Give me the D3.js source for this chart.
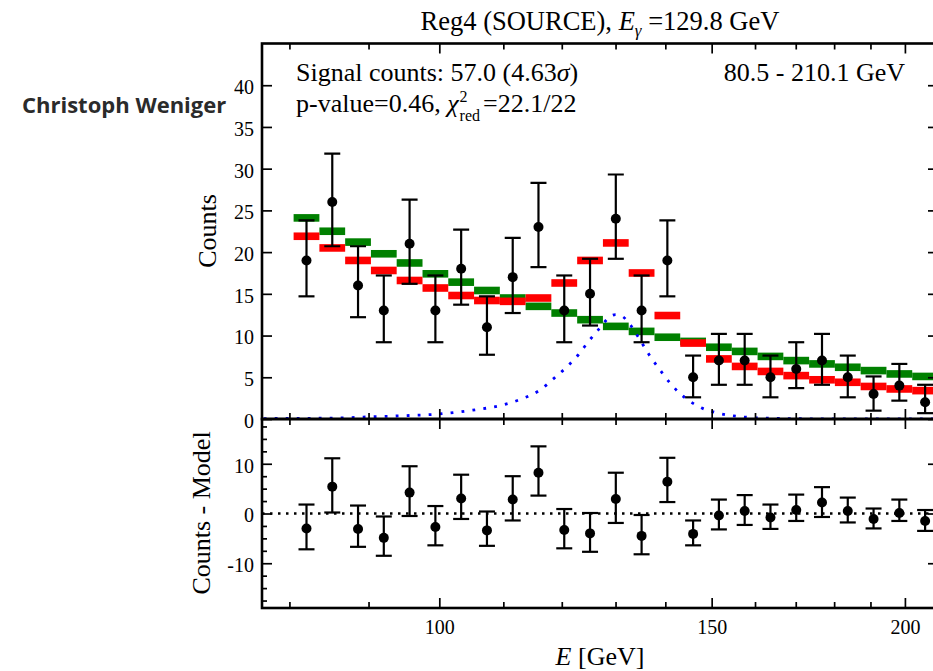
<!DOCTYPE html>
<html>
<head>
<meta charset="utf-8">
<script src="https://cdnjs.cloudflare.com/ajax/libs/d3/7.8.5/d3.min.js"></script>
<style>
  body { margin: 0; padding: 0; background: #fff; }
  svg { display: block; }
</style>
</head>
<body>
<svg id="chart" width="933" height="671"></svg>
<script>
// ---- data ----
const xDomain = [76.8, 210.1];
const binEdges = [80.5, 83.65, 86.92, 90.32, 93.85, 97.53, 101.34, 105.31, 109.43, 113.71,
  118.15, 122.78, 127.58, 132.57, 137.76, 143.14, 148.74, 154.56, 160.61, 166.89,
  173.42, 180.2, 187.25, 194.58, 202.19, 210.1];
const counts   = [19, 26, 16, 13, 21, 13, 18, 11, 17, 23, 13, 15, 24, 13, 19, 5, 7, 7, 5, 6, 7, 5, 3, 4, 2];
const countsHi = [23.8, 31.8, 20.7, 17.2, 26.3, 17.2, 22.7, 14.7, 21.7, 28.3, 17.2, 19.2, 29.3, 17.2, 23.8,
  7.6, 10.2, 10.2, 7.6, 9.2, 10.2, 7.6, 5.1, 6.6, 4.1];
const countsLo = [14.7, 20.7, 12.2, 9.2, 16.2, 9.2, 13.7, 7.7, 12.7, 18.2, 9.2, 11.2, 19.2, 9.2, 14.7,
  2.6, 4.1, 4.1, 2.6, 3.7, 4.1, 2.6, 1.0, 2.2, 0.7];
const modelTotal = [21.9, 20.5, 19.0, 17.8, 16.6, 15.7, 14.8, 14.2, 14.1, 14.5, 16.3, 19.0, 21.1, 17.5, 12.4,
  9.1, 7.2, 6.3, 5.7, 5.2, 4.7, 4.4, 3.9, 3.6, 3.4];
const modelBkg = [24.1, 22.5, 21.2, 19.8, 18.7, 17.4, 16.4, 15.4, 14.5, 13.5, 12.7, 11.9, 11.1, 10.5, 9.8,
  9.3, 8.6, 8.1, 7.5, 7.0, 6.6, 6.2, 5.8, 5.4, 5.1];
const resid   = [-3.0, 5.4, -3.1, -4.9, 4.2, -2.7, 3.0, -3.4, 2.8, 8.2, -3.3, -4.0, 2.9, -4.5, 6.4,
  -4.1, -0.4, 0.5, -0.8, 0.7, 2.2, 0.5, -1.1, 0.1, -1.5];
const residHi = [1.8, 11.1, 1.6, -0.6, 9.5, 1.5, 7.8, 0.4, 7.5, 13.5, 0.9, 0.1, 8.2, -0.3, 11.2,
  -1.4, 2.8, 3.7, 1.8, 3.8, 5.3, 3.2, 1.0, 2.8, 0.7];
const residLo = [-7.2, 0.2, -6.7, -8.5, -0.5, -6.4, -1.1, -6.5, -1.4, 3.6, -7.0, -7.7, -1.9, -8.2, 2.3,
  -6.4, -3.2, -2.3, -3.1, -1.5, -0.7, -1.8, -3.0, -1.5, -3.5];
const signalE = [77, 80, 85, 90, 95, 100, 105, 110, 113, 116, 119, 121, 123, 125, 127, 129, 130, 131,
  133, 135, 137, 139, 141, 143, 145, 148, 151, 155, 160, 170, 180, 210];
const signalV = [0.05, 0.07, 0.1, 0.25, 0.4, 0.6, 1.05, 1.7, 2.4, 3.4, 5.1, 6.3, 7.7, 9.4, 10.9, 12.3, 12.5, 12.4,
  11.2, 9.3, 7.4, 5.8, 4.3, 3.1, 2.2, 1.27, 0.76, 0.37, 0.15, 0.04, 0.01, 0];
const xMajorTicks = [100, 150, 200];
const xMinorTicks = [80, 90, 110, 120, 130, 140, 160, 170, 180, 190];
const yTopTicks = [0, 5, 10, 15, 20, 25, 30, 35, 40];
const yResMajor = [-10, 0, 10];
const yResMinor = [-17.5, -15, -12.5, -7.5, -5, -2.5, 2.5, 5, 7.5, 12.5, 15, 17.5];

const serif = '"Liberation Serif", "Times New Roman", serif';
const svg = d3.select("#chart");

const x = d3.scaleLog().domain(xDomain).range([262, 938]);
const yTop = d3.scaleLinear().domain([0, 45]).range([419, 43.5]);
const yRes = d3.scaleLinear().domain([-19, 19]).range([608, 419]);

const bins = counts.map((c, i) => ({
  lo: binEdges[i], hi: binEdges[i + 1], n: c, nHi: countsHi[i], nLo: countsLo[i],
  tot: modelTotal[i], bkg: modelBkg[i], r: resid[i], rHi: residHi[i], rLo: residLo[i]
}));
const cx = d => (x(d.lo) + x(d.hi)) / 2;

svg.append("clipPath").attr("id", "clipTop").append("rect")
  .attr("x", 262).attr("y", 43.5).attr("width", 676).attr("height", 375.5);
svg.append("clipPath").attr("id", "clipRes").append("rect")
  .attr("x", 262).attr("y", 419).attr("width", 676).attr("height", 189);

// ---- top panel ----
const topG = svg.append("g").attr("clip-path", "url(#clipTop)");
topG.selectAll("rect.bkg").data(bins).enter().append("rect")
  .attr("x", d => x(d.lo)).attr("width", d => x(d.hi) - x(d.lo))
  .attr("y", d => yTop(d.bkg) - 3.8).attr("height", 7.6).attr("fill", "#008000");
topG.selectAll("rect.tot").data(bins).enter().append("rect")
  .attr("x", d => x(d.lo)).attr("width", d => x(d.hi) - x(d.lo))
  .attr("y", d => yTop(d.tot) - 3.8).attr("height", 7.6).attr("fill", "#ff0000");

const sigLine = d3.line().x((d, i) => x(signalE[i])).y(d => yTop(d)).curve(d3.curveMonotoneX);
topG.append("path").datum(signalV).attr("d", sigLine)
  .attr("fill", "none").attr("stroke", "#0000ff").attr("stroke-width", 2.8)
  .attr("stroke-dasharray", "2.8,8.2");

function errorBars(g, data, y, val, lo, hi) {
  const e = g.selectAll("g.err").data(data).enter().append("g");
  e.append("line").attr("x1", cx).attr("x2", cx)
    .attr("y1", d => y(lo(d))).attr("y2", d => y(hi(d)));
  e.append("line").attr("x1", d => cx(d) - 8).attr("x2", d => cx(d) + 8)
    .attr("y1", d => y(lo(d))).attr("y2", d => y(lo(d)));
  e.append("line").attr("x1", d => cx(d) - 8).attr("x2", d => cx(d) + 8)
    .attr("y1", d => y(hi(d))).attr("y2", d => y(hi(d)));
  e.selectAll("line").attr("stroke", "#000").attr("stroke-width", 2.2);
  e.append("circle").attr("cx", cx).attr("cy", d => y(val(d))).attr("r", 5).attr("fill", "#000");
}
errorBars(topG, bins, yTop, d => d.n, d => d.nLo, d => d.nHi);

// ---- residual panel ----
const resG = svg.append("g").attr("clip-path", "url(#clipRes)");
resG.append("line").attr("x1", 262).attr("x2", 938).attr("y1", yRes(0)).attr("y2", yRes(0))
  .attr("stroke", "#000").attr("stroke-width", 2.5).attr("stroke-dasharray", "2.5,5.5");
errorBars(resG, bins, yRes, d => d.r, d => d.rLo, d => d.rHi);

// ---- axes (inward ticks on all sides) ----
function ticks(gx, axis, values, size, labels) {
  const g = svg.append("g").attr("transform", gx);
  g.call(axis.tickValues(values).tickSize(size).tickSizeOuter(0).tickPadding(labels ? labels : 3)
    .tickFormat(labels ? (d => String(d)) : ""));
  g.select(".domain").remove();
  g.selectAll(".tick line").attr("stroke", "#000").attr("stroke-width", 1.7);
  g.selectAll("text").attr("font-family", serif).attr("font-size", 20).attr("fill", "#000");
  return g;
}
// top panel
ticks("translate(0,43.5)", d3.axisTop(x), xMinorTicks, -6);
ticks("translate(0,43.5)", d3.axisTop(x), xMajorTicks, -10);
ticks("translate(0,419)", d3.axisBottom(x), xMinorTicks, -6);
ticks("translate(0,419)", d3.axisBottom(x), xMajorTicks, -10);
ticks("translate(262,0)", d3.axisLeft(yTop), yTopTicks, -10, 8).selectAll("text").attr("dy", "0.42em");
ticks("translate(938,0)", d3.axisRight(yTop), yTopTicks, -10);
// residual panel
ticks("translate(0,419)", d3.axisTop(x), xMinorTicks, -6);
ticks("translate(0,419)", d3.axisTop(x), xMajorTicks, -10);
ticks("translate(0,608)", d3.axisBottom(x), xMinorTicks, -6);
ticks("translate(0,608)", d3.axisBottom(x), xMajorTicks, -10, 12);
ticks("translate(262,0)", d3.axisLeft(yRes), yResMinor, -5);
ticks("translate(262,0)", d3.axisLeft(yRes), yResMajor, -10, 8).selectAll("text").attr("dy", "0.42em");
ticks("translate(938,0)", d3.axisRight(yRes), yResMinor, -5);
ticks("translate(938,0)", d3.axisRight(yRes), yResMajor, -10);

// frames
[[43.5, 419], [419, 608]].forEach(([a, b]) => {
  svg.append("rect").attr("x", 262).attr("y", a).attr("width", 676).attr("height", b - a)
    .attr("fill", "none").attr("stroke", "#000").attr("stroke-width", 2.6);
});

// ---- texts ----
const T = (xp, yp, size) => svg.append("text").attr("x", xp).attr("y", yp)
  .attr("font-family", serif).attr("font-size", size).attr("fill", "#000");

const title = T(600, 30, 26.5).attr("text-anchor", "middle");
title.append("tspan").text("Reg4 (SOURCE), ");
title.append("tspan").attr("font-style", "italic").text("E");
title.append("tspan").attr("font-style", "italic").attr("font-size", 17).attr("dy", 6).text("γ");
title.append("tspan").attr("dy", -6).text(" =129.8 GeV");

const sig = T(296, 81, 26);
sig.append("tspan").text("Signal counts: 57.0 (4.63");
sig.append("tspan").attr("font-style", "italic").text("σ");
sig.append("tspan").text(")");

const pv = T(296, 112, 26);
pv.append("tspan").text("p-value=0.46, ");
pv.append("tspan").attr("font-style", "italic").text("χ");
const chiEnd = 296 + pv.node().getComputedTextLength() + 1;
T(chiEnd, 102, 16).text("2");
const red = T(chiEnd, 121, 16).text("red");
T(chiEnd + red.node().getComputedTextLength() + 3, 112, 26).text("=22.1/22");

T(905, 81, 26).attr("text-anchor", "end").text("80.5 - 210.1 GeV");

T(0, 0, 26).attr("text-anchor", "middle").attr("transform", "translate(216,231) rotate(-90)")
  .attr("x", null).attr("y", null).text("Counts");
T(0, 0, 26).attr("text-anchor", "middle").attr("transform", "translate(210,513) rotate(-90)")
  .attr("x", null).attr("y", null).text("Counts - Model");

const xl = T(600, 665, 26).attr("text-anchor", "middle");
xl.append("tspan").attr("font-style", "italic").text("E");
xl.append("tspan").text(" [GeV]");

svg.append("text").attr("x", 22).attr("y", 113).attr("font-family", '"Open Sans", sans-serif')
  .attr("font-weight", "bold").attr("font-size", 22).attr("fill", "#2b2b2b").text("Christoph Weniger");
</script>
</body>
</html>
